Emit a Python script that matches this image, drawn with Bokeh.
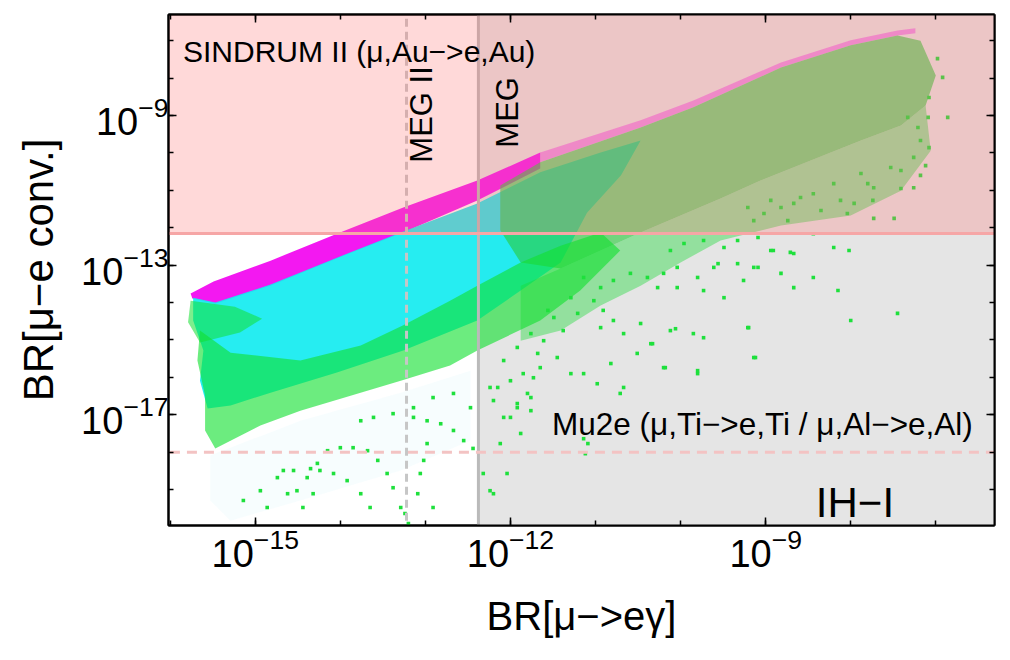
import numpy as np
from math import pi
from bokeh.plotting import figure
from bokeh.models import (LogAxis, FixedTicker, Range1d, Label,
                          CustomJSTickFormatter, LogTickFormatter)
from bokeh.embed import file_html
from bokeh.resources import INLINE

# ---------------- experimental limits ----------------
MEG_LIMIT = 4.2e-13      # BR(mu -> e gamma), MEG
MEG2_SENS = 6.0e-14      # MEG II sensitivity
SINDRUM_LIMIT = 7.0e-13  # mu Au -> e Au
MU2E_SENS = 1.0e-18      # Mu2e-type sensitivity

# axis ranges (log10)
X_RANGE_EXP = (-16.02, -6.31)
Y_RANGE_EXP = (-19.96, -6.30)

x_major_ticks = [1e-15, 1e-12, 1e-9]
x_minor_ticks = [1e-17, 1e-16, 1e-15, 1e-14, 1e-13, 1e-12, 1e-11, 1e-10, 1e-9, 1e-8, 1e-7, 1e-6]
y_major_ticks = [1e-17, 1e-13, 1e-9]
y_minor_ticks = [1e-21, 1e-20, 1e-19, 1e-18, 1e-17, 1e-16, 1e-15, 1e-14, 1e-13,
                 1e-12, 1e-11, 1e-10, 1e-9, 1e-8, 1e-7, 1e-6]

# ---------------- scan regions (log10 BR values) ----------------
# magenta points: upper band, left part
magenta_x = [-15.76, -15.49, -14.82, -14.04, -13.26, -12.39, -11.65,
             -11.65, -12.39, -13.26, -14.04, -14.82, -15.47, -15.74]
magenta_y = [-13.76, -13.44, -12.88, -12.16, -11.46, -10.74, -9.99,
             -10.42, -11.27, -12.13, -12.82, -13.55, -14.03, -13.89]
# magenta points: thin upper edge, right part
magenta_edge_x = [-11.65, -10.47, -9.85, -8.82, -8.00, -7.45, -7.24,
                  -7.24, -7.45, -8.00, -8.82, -9.85, -10.47, -11.65]
magenta_edge_y = [-9.99, -9.13, -8.60, -7.58, -6.99, -6.73, -6.67,
                  -6.80, -6.86, -7.12, -7.72, -8.78, -9.32, -10.25]

# cyan points
cyan_x = [-15.73, -15.47, -14.82, -14.04, -13.26, -12.39, -11.65, -10.94, -10.47,
          -10.70, -11.10, -11.41, -11.88, -12.39, -13.26, -14.04, -14.82, -15.29, -15.56,
          -15.65, -15.61, -15.73]
cyan_y = [-13.87, -14.00, -13.52, -12.80, -12.10, -11.35, -10.52, -9.99, -9.67,
          -10.60, -11.60, -12.93, -13.68, -14.48, -15.28, -15.87, -16.41, -16.75, -16.83,
          -16.09, -15.28, -14.48]

# faint scattered points below the dense band
faint_x = [-15.53, -14.47, -13.29, -12.47, -12.47, -13.29, -14.47, -15.29, -15.53]
faint_y = [-18.09, -17.16, -16.41, -15.82, -17.69, -18.49, -19.29, -19.83, -19.29]

# green points, dense lower streaks
green_low_x = [-15.65, -15.29, -14.47, -13.76, -13.26, -12.71, -12.39, -11.88, -11.41, -10.94, -10.71,
               -11.18, -11.65, -12.39, -12.71, -13.29, -13.88, -14.47, -14.94, -15.47, -15.59, -15.59, -15.68]
green_low_y = [-14.75, -15.34, -15.55, -15.15, -14.61, -13.95, -13.55, -12.93, -12.48, -12.13, -12.61,
               -13.68, -14.48, -15.28, -15.68, -16.09, -16.49, -16.89, -17.29, -17.90, -17.42, -16.49, -15.55]

# green points, streak tips at upper left
green_tip_x = [-15.76, -15.24, -14.92, -15.18, -15.65, -15.79]
green_tip_y = [-13.95, -14.11, -14.43, -14.80, -15.07, -14.53]

# green points, dense upper-right region
green_up_x = [-12.12, -11.65, -10.47, -9.85, -8.82, -8.00, -7.45, -7.18, -7.00, -7.12, -7.41, -7.88,
              -8.47, -9.06, -9.53, -10.00, -10.47, -10.94, -11.41, -11.88, -12.12]
green_up_y = [-10.87, -10.25, -9.32, -8.78, -7.72, -7.12, -6.86, -7.00, -7.93, -8.73, -9.27, -9.67,
              -10.20, -10.74, -11.22, -11.67, -12.13, -12.61, -13.09, -12.93, -12.07]

# green points, medium density zone
green_mid_x = [-11.88, -11.41, -10.94, -10.47, -10.00, -9.53, -9.06, -8.47, -7.88, -7.41, -7.12,
               -7.06, -7.41, -8.00, -8.82, -9.53, -10.00, -10.47, -10.94, -11.41, -11.88]
green_mid_y = [-13.55, -13.09, -12.61, -12.13, -11.67, -11.22, -10.74, -10.20, -9.67, -9.27, -8.73,
               -9.94, -11.01, -11.67, -11.94, -12.34, -12.93, -13.55, -14.08, -14.75, -15.02]

# isolated green points
sparse_x = [-15.14, -14.94, -14.74, -14.62, -14.51, -14.39, -14.27, -14.15, -14.00, -13.85, -13.68, -13.56,
            -13.45, -13.38, -13.29, -13.76, -13.61, -13.38, -13.14, -12.98, -12.82, -12.67, -12.55, -12.44,
            -14.08, -13.92, -13.76, -13.65, -14.32, -14.44, -14.86, -14.67, -14.55, -14.35, -14.24, -12.98,
            -13.02, -13.06, -13.09, -12.91, -13.14, -12.91, -12.67, -12.47, -12.24, -12.20, -12.08, -11.92,
            -11.80, -11.73, -12.32, -12.24, -12.20, -12.04, -11.88, -12.12, -11.76, -13.24, -13.20,
            -10.12, -9.96, -9.73, -9.49, -9.33, -9.09, -8.94, -8.71, -10.04, -9.80, -9.56, -9.33, -9.09,
            -8.82, -8.67, -10.27, -10.04, -9.73, -9.49, -9.21, -9.14, -9.73, -9.85, -10.12, -10.35, -10.20,
            -9.80, -10.51, -10.67, -10.79, -10.91, -11.02, -11.29, -11.21, -11.38, -11.49, -11.61, -11.68,
            -11.45, -11.29, -11.14, -10.98, -10.82, -10.67, -11.65, -11.85, -12.00, -11.76, -11.92, -12.00,
            -12.15, -12.08, -11.92, -11.76, -11.56, -11.14, -10.94, -10.79, -10.59, -10.39, -10.20, -9.61,
            -9.26, -9.14, -8.44, -8.15, -8.00, -7.45, -9.20, -9.12, -10.06, -10.33, -10.18, -10.47, -10.94,
            -10.71, -11.14, -11.09, -11.12, -9.80,
            -6.86, -6.92, -6.98, -7.08, -7.09, -7.08, -7.12, -7.18, -7.26, -7.41, -7.49, -7.53, -7.33,
            -7.73, -7.74, -7.80, -7.88, -7.96, -8.04, -8.12, -8.20, -8.35, -8.44, -8.59, -8.67, -8.74,
            -8.82, -8.94, -9.02, -9.14, -9.21, -7.73, -7.41, -7.26, -7.21, -7.18,
            -8.20, -8.02, -8.44, -8.67, -8.91]
sparse_y = [-19.29, -19.03, -18.68, -19.11, -19.03, -18.68, -18.30, -17.96, -17.88, -17.88, -17.96, -18.22,
            -18.57, -18.95, -19.48, -17.16, -17.07, -16.97, -17.07, -17.16, -17.24, -17.42, -17.69, -17.90,
            -18.57, -18.76, -19.11, -19.48, -19.11, -19.48, -19.48, -18.49, -18.49, -18.44, -18.49, -17.77,
            -18.22, -18.57, -19.11, -19.48, -16.81, -16.54, -16.43, -16.81, -16.27, -16.62, -17.07, -16.70,
            -16.43, -16.01, -18.57, -19.03, -19.11, -18.57, -17.50, -17.77, -16.89, -19.64, -19.91,
            -12.61, -12.42, -12.34, -12.53, -12.34, -12.26, -12.61, -12.66, -13.06, -13.33, -12.96, -12.96,
            -13.06, -13.22, -13.60, -13.60, -13.60, -13.68, -13.87, -14.67, -15.47, -14.94, -14.83, -14.75,
            -15.10, -15.74, -15.90, -15.36, -14.83, -14.48, -14.21, -13.95, -13.87, -14.29, -14.75, -14.40,
            -15.02, -15.36, -15.47, -15.90, -15.90, -16.17, -15.63, -16.27, -15.74, -15.90, -16.09, -16.54,
            -16.81, -17.07, -16.27, -15.55, -15.20, -14.83, -14.21, -13.33, -13.60, -13.41, -13.22, -13.33,
            -13.22, -13.06, -13.41, -13.06, -13.33, -13.68, -14.48, -14.29, -14.67, -15.47, -14.70, -15.10,
            -15.74, -14.56, -14.67, -16.43, -17.64, -17.77, -18.04, -15.82,
            -9.05, -7.98, -7.48, -8.52, -9.05, -9.86, -10.34, -10.60, -10.93, -10.95, -11.75, -10.39, -9.05,
            -11.75, -11.27, -10.82, -10.55, -11.35, -11.62, -11.27, -10.82, -11.54, -11.09, -11.19, -11.35,
            -11.81, -11.46, -11.27, -11.62, -11.81, -11.46, -10.93, -10.47, -10.12, -9.32, -9.67,
            -12.53, -12.61, -12.16, -12.69, -12.61]


def pw(v):
    return [10.0 ** e for e in v]


p = figure(width=1008, height=650, x_axis_type="log", y_axis_type="log",
           x_range=Range1d(10 ** X_RANGE_EXP[0], 10 ** X_RANGE_EXP[1]),
           y_range=Range1d(10 ** Y_RANGE_EXP[0], 10 ** Y_RANGE_EXP[1]),
           output_backend="svg", toolbar_location=None,
           min_border_left=168, min_border_right=14, min_border_top=14, min_border_bottom=125,
           background_fill_color="white", border_fill_color="white")
p.grid.visible = False
p.outline_line_color = "black"
p.outline_line_width = 2

FONT = "Liberation Sans"

# grey band: excluded by MEG
p.quad(left=[MEG_LIMIT], right=[1e-4], bottom=[1e-24], top=[1e-3],
       fill_color="#e5e5e5", line_color=None)

# scan regions
p.patch(pw(faint_x), pw(faint_y), fill_color="#8ae6f2", fill_alpha=0.07, line_color=None)
p.patch(pw(magenta_x), pw(magenta_y), fill_color="#f20cf0", fill_alpha=0.95, line_color=None)
p.patch(pw(magenta_edge_x), pw(magenta_edge_y), fill_color="#f020e8", fill_alpha=0.42, line_color=None)
p.patch(pw(cyan_x), pw(cyan_y), fill_color="#14ecf0", fill_alpha=0.92, line_color=None)
p.patch(pw(green_mid_x), pw(green_mid_y), fill_color="#22d83c", fill_alpha=0.42, line_color=None)
p.patch(pw(green_up_x), pw(green_up_y), fill_color="#2ccc3e", fill_alpha=0.62, line_color=None)
p.patch(pw(green_low_x), pw(green_low_y), fill_color="#12e030", fill_alpha=0.62, line_color=None)
p.patch(pw(green_tip_x), pw(green_tip_y), fill_color="#12e030", fill_alpha=0.55, line_color=None)
p.scatter(pw(sparse_x), pw(sparse_y), marker="square", size=3.6,
          fill_color="#1ee03c", line_color=None)

# MEG lines
p.segment(x0=[MEG2_SENS], y0=[1e-24], x1=[MEG2_SENS], y1=[1e-3],
          line_color="#c6c6c6", line_width=3, line_dash="8 5")
p.segment(x0=[MEG_LIMIT], y0=[1e-24], x1=[MEG_LIMIT], y1=[1e-3],
          line_color="#bababa", line_width=3)

# SINDRUM excluded (pink, over everything)
p.quad(left=[1e-20], right=[1e-4], bottom=[SINDRUM_LIMIT], top=[1e-3],
       fill_color="#ff7272", fill_alpha=0.27, line_color=None)
p.segment(x0=[1e-20], y0=[SINDRUM_LIMIT], x1=[1e-4], y1=[SINDRUM_LIMIT],
          line_color="#f6a6a6", line_width=3)
p.segment(x0=[1e-20], y0=[MU2E_SENS], x1=[1e-4], y1=[MU2E_SENS],
          line_color="#f3c3c3", line_width=3, line_dash="10 7")

# texts
p.add_layout(Label(x=10 ** -15.85, y=10 ** -7.29, text="SINDRUM II (μ,Au−>e,Au)",
                   text_font=FONT, text_font_size="30px", text_color="black",
                   text_align="left", text_baseline="alphabetic"))
p.add_layout(Label(x=10 ** -13.04, y=10 ** -10.26, text="MEG II", angle=pi / 2,
                   text_font=FONT, text_font_size="31px", text_color="black",
                   text_align="left", text_baseline="middle"))
p.add_layout(Label(x=10 ** -12.04, y=10 ** -9.86, text="MEG", angle=pi / 2,
                   text_font=FONT, text_font_size="31px", text_color="black",
                   text_align="left", text_baseline="middle"))
p.add_layout(Label(x=10 ** -6.565, y=10 ** -17.26, text="Mu2e (μ,Ti−>e,Ti / μ,Al−>e,Al)",
                   text_font=FONT, text_font_size="31.5px", text_color="black",
                   text_align="right", text_baseline="alphabetic"))
p.add_layout(Label(x=10 ** -8.41, y=10 ** -19.35, text="IH−I",
                   text_font=FONT, text_font_size="42px", text_color="black",
                   text_align="left", text_baseline="alphabetic"))


def style_axis(ax, major, minor):
    ax.ticker = FixedTicker(ticks=major, minor_ticks=minor)
    ax.axis_line_color = "black"
    ax.axis_line_width = 2
    ax.major_tick_in = 8
    ax.major_tick_out = 0
    ax.minor_tick_in = 5
    ax.minor_tick_out = 0
    ax.major_tick_line_width = 1.5
    ax.minor_tick_line_width = 1.5
    ax.major_tick_line_color = "black"
    ax.minor_tick_line_color = "black"


xa = p.xaxis[0]
ya = p.yaxis[0]
style_axis(xa, x_major_ticks, x_minor_ticks)
style_axis(ya, y_major_ticks, y_minor_ticks)
for ax in (xa, ya):
    ax.formatter = LogTickFormatter()
    ax.major_label_text_font = FONT
    ax.major_label_text_font_size = "38px"
    ax.major_label_text_color = "black"
    ax.axis_label_text_font = FONT
    ax.axis_label_text_font_style = "normal"
    ax.axis_label_text_color = "black"
xa.axis_label_text_font_size = "40px"
ya.axis_label_text_font_size = "42px"
xa.axis_label = "BR[μ−>eγ]"
ya.axis_label = "BR[μ−e conv.]"
xa.major_label_standoff = 2
xa.axis_label_standoff = 24
ya.major_label_standoff = 0
ya.axis_label_standoff = 16

for loc, major, minor in (("above", x_major_ticks, x_minor_ticks), ("right", y_major_ticks, y_minor_ticks)):
    extra = LogAxis()
    style_axis(extra, major, minor)
    extra.formatter = CustomJSTickFormatter(code="return ''")
    extra.major_label_standoff = 0
    extra.major_label_text_font_size = "1px"
    p.add_layout(extra, loc)

open("out.html", "w").write(file_html(p, INLINE))
